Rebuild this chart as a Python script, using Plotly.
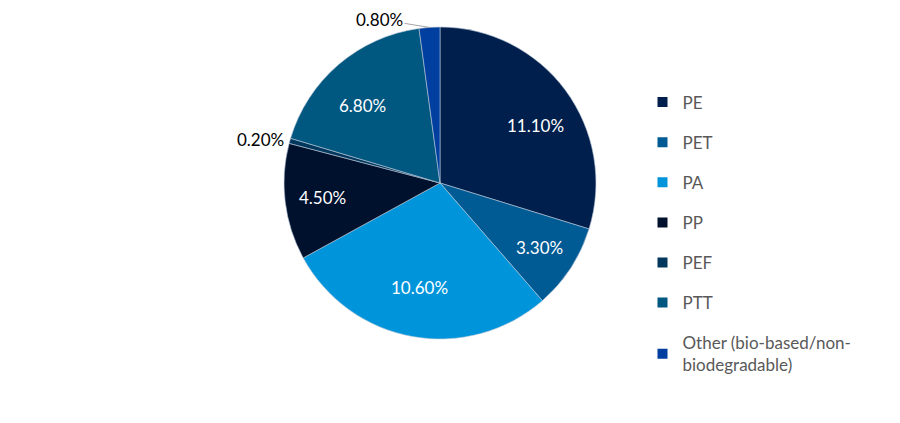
import math
import plotly.graph_objects as go

# Share of each polymer (percent labels as shown on the slices)
polymers = ["PE", "PET", "PA", "PP", "PEF", "PTT", "Other (bio-based/non-<br>biodegradable)"]
shares = [11.10, 3.30, 10.60, 4.50, 0.20, 6.80, 0.80]
slice_colors = ["#001f4d", "#005a94", "#0095da", "#00112e", "#03385e", "#005881", "#003f9f"]

# where each label goes: inside the slice, just outside, or callout with a leader line
label_kind = ["inside", "inside", "inside", "inside", "outside", "inside", "callout"]
text_labels = [f"{v:.2f}%" for v in shares]

W, H = 900, 423
dom_x = [0.3067, 0.6533]
dom_y = [0.2175, 0.9551]

fig = go.Figure()
fig.add_trace(
    go.Pie(
        labels=polymers,
        values=shares,
        textinfo="none",
        marker=dict(colors=slice_colors, line=dict(color="#b8c6d6", width=0.6)),
        sort=False,
        direction="clockwise",
        rotation=0,
        domain=dict(x=dom_x, y=dom_y),
        hoverinfo="label+value",
        showlegend=False,
    )
)

# slice labels placed along each slice's bisector, like the original
radius_px = min((dom_x[1] - dom_x[0]) * W, (dom_y[1] - dom_y[0]) * H) / 2
cx, cy = sum(dom_x) / 2, sum(dom_y) / 2
total = sum(shares)
start = 0.0
for val, lab, kind in zip(shares, text_labels, label_kind):
    ang = 2 * math.pi * (start + val / 2) / total
    start += val
    if kind == "inside":
        d = 0.76 * radius_px
        fig.add_annotation(
            x=cx + d * math.sin(ang) / W, y=cy + d * math.cos(ang) / H,
            xref="paper", yref="paper", text=lab, showarrow=False,
            font=dict(size=17, color="white"),
        )
    elif kind == "outside":
        d = radius_px + 4
        fig.add_annotation(
            x=cx + d * math.sin(ang) / W, y=cy + d * math.cos(ang) / H,
            xref="paper", yref="paper", text=lab, showarrow=False,
            xanchor="right", yanchor="middle",
            font=dict(size=17, color="#000000"),
        )
    else:
        fig.add_annotation(
            x=cx + radius_px * math.sin(ang) / W, y=cy + radius_px * math.cos(ang) / H,
            xref="paper", yref="paper", text=lab,
            showarrow=True, arrowhead=0, arrowwidth=1, arrowcolor="#a6a6a6",
            ax=-50, ay=-8,
            font=dict(size=17, color="#000000"),
        )

# legend entries (one group each so the gap between rows can be set)
for name, col in zip(polymers, slice_colors):
    fig.add_trace(
        go.Scatter(
            x=[None], y=[None],
            mode="markers",
            marker=dict(symbol="square", size=10, color=col),
            name=name,
            legendgroup=name,
            showlegend=True,
        )
    )

fig.update_layout(
    width=W,
    height=H,
    paper_bgcolor="white",
    plot_bgcolor="white",
    margin=dict(l=0, r=0, t=0, b=0, autoexpand=False),
    font=dict(family="Lato, Open Sans, sans-serif", size=17, color="#595959"),
    xaxis=dict(visible=False),
    yaxis=dict(visible=False),
    legend=dict(
        x=0.705,
        y=0.819,
        xanchor="left",
        yanchor="top",
        font=dict(size=17, color="#595959"),
        itemwidth=30,
        tracegroupgap=15,
    ),
)

fig.write_html("out.html")
